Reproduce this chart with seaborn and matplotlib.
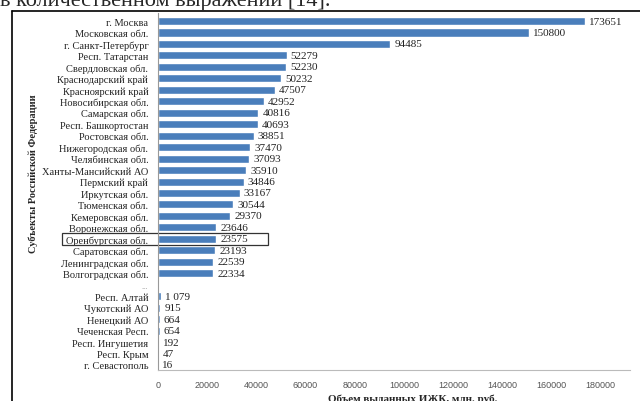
import matplotlib
matplotlib.use('Agg')
import matplotlib.pyplot as plt
import matplotlib.transforms as mtransforms
from matplotlib.patches import Rectangle
import seaborn as sns
import pandas as pd

# Regions (top block, gap marker, bottom block) and loan volumes, mln rub
regions = ['г. Москва', 'Московская обл.', 'г. Санкт-Петербург', 'Респ. Татарстан',
           'Свердловская обл.', 'Краснодарский край', 'Красноярский край',
           'Новосибирская обл.', 'Самарская обл.', 'Респ. Башкортостан', 'Ростовская обл.',
           'Нижегородская обл.', 'Челябинская обл.', 'Ханты-Мансийский АО', 'Пермский край',
           'Иркутская обл.', 'Тюменская обл.', 'Кемеровская обл.', 'Воронежская обл.',
           'Оренбургская обл.', 'Саратовская обл.', 'Ленинградская обл.', 'Волгоградская обл.',
           '...',
           'Респ. Алтай', 'Чукотский АО', 'Ненецкий АО', 'Чеченская Респ.',
           'Респ. Ингушетия', 'Респ. Крым', 'г. Севастополь']
volumes = [173651, 150800, 94485, 52279, 52230, 50232, 47507, 42952, 40816, 40693, 38851,
           37470, 37093, 35910, 34846, 33167, 30544, 29370, 23646, 23575, 23193, 22539, 22334,
           0,
           1079, 915, 664, 654, 192, 47, 16]
value_labels = ['173651', '150800', '94485', '52279', '52230', '50232', '47507', '42952',
                '40816', '40693', '38851', '37470', '37093', '35910', '34846', '33167',
                '30544', '29370', '23646', '23575', '23193', '22539', '22334', '',
                '1 079', '915', '664', '654', '192', '47', '16']
x_ticks = [0, 20000, 40000, 60000, 80000, 100000, 120000, 140000, 160000, 180000]
highlight = 'Оренбургская обл.'

df = pd.DataFrame({'region': regions, 'volume': volumes})

sns.set_style('white')
serif = ['Liberation Serif', 'DejaVu Serif']

fig = plt.figure(figsize=(6.4, 4.02), dpi=100)
ax = fig.add_axes([158 / 640, 1 - 371 / 402, (630 - 158) / 640, (371 - 14) / 402])

sns.barplot(data=df, x='volume', y='region', orient='h', color='#4a7ebb',
            width=0.7, saturation=1, ax=ax)

ax.set_xlim(0, 192000)
ax.set_ylim(len(regions) - 0.56, -0.7)
ax.set_xticks(x_ticks)
ax.set_xticklabels([str(t) for t in x_ticks], fontsize=6.5, color='#555555',
                   family='Liberation Sans')
ax.set_yticks(range(len(regions)))
ax.set_yticklabels(regions, fontsize=7.5, family=serif, color='#222222')
for lbl in ax.get_yticklabels():
    if lbl.get_text() == '...':
        lbl.set_color('#999999')
        lbl.set_fontsize(6)
ax.tick_params(axis='y', length=0, pad=7)
ax.tick_params(axis='x', length=0, pad=7)
ax.set_xlabel('')
ax.set_ylabel('')

for side in ['top', 'right']:
    ax.spines[side].set_visible(False)
ax.spines['left'].set_color('#999999')
ax.spines['bottom'].set_color('#bbbbbb')
ax.spines['left'].set_linewidth(0.8)
ax.spines['bottom'].set_linewidth(0.8)

ax.bar_label(ax.containers[0], labels=value_labels, padding=3, fontsize=8,
             family=serif, color='#222222')

# Frame around the highlighted region row
row = regions.index(highlight)
blend = mtransforms.blended_transform_factory(fig.transFigure, ax.transData)
ax.add_patch(Rectangle((62 / 640, row - 0.55), (268 - 62) / 640, 1.1, transform=blend,
                       fill=False, edgecolor='#333333', linewidth=0.9, clip_on=False))

fig.text(33 / 640, 1 - 174 / 402, 'Субъекты Российской Федерации', rotation=90,
         ha='center', va='center', fontsize=7.5, fontweight='bold', family=serif)
fig.text(413 / 640, 1 - 395 / 402, 'Объем выданных ИЖК, млн. руб.', ha='center', va='top',
         fontsize=8, fontweight='bold', family=serif)

# Document context: cut-off line above and the chart frame
fig.text(0, 1 - 6 / 402, 'в количественном выражении [14].', ha='left', va='baseline',
         fontsize=16, family=serif)
fig.add_artist(plt.Line2D([12 / 640, 12 / 640], [0, 1 - 12 / 402], transform=fig.transFigure,
                          color='black', linewidth=1.2))
fig.add_artist(plt.Line2D([12 / 640, 1], [1 - 12 / 402, 1 - 12 / 402], transform=fig.transFigure,
                          color='black', linewidth=1.2))

plt.savefig('out.png', dpi=100)
plt.close()
